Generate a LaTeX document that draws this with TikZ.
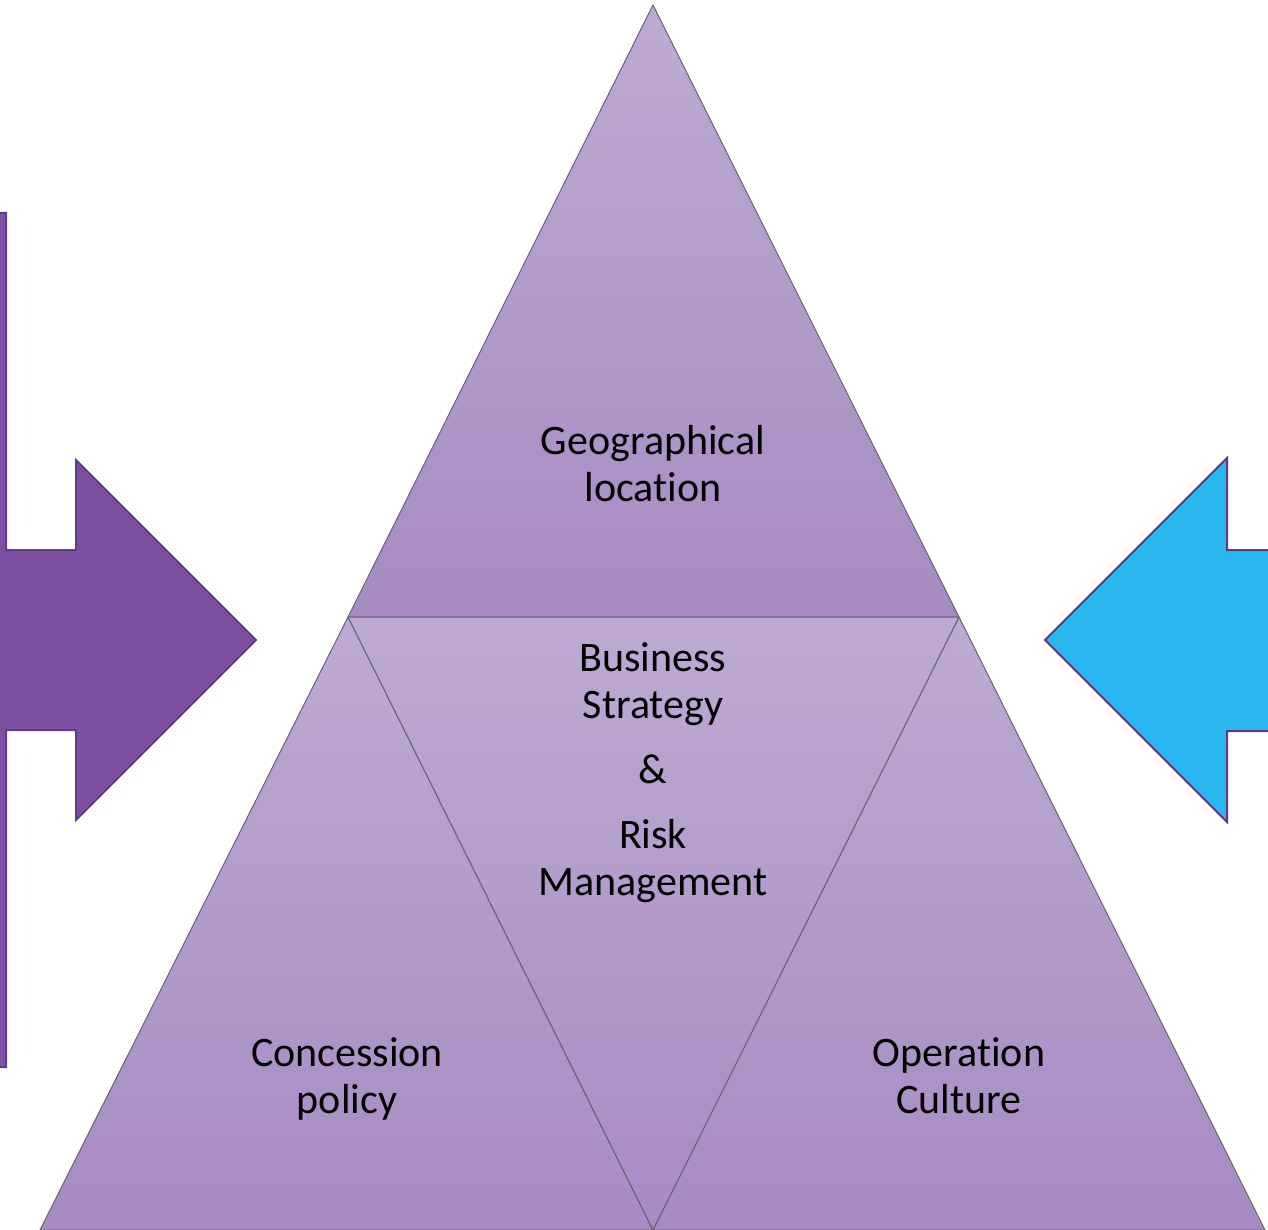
\documentclass[tikz,border=0pt]{standalone}
\usepackage{fontspec}
\setmainfont[RawFeature=-liga]{Carlito}
\definecolor{arrowpurple}{HTML}{7E50A2}
\definecolor{arrowpurpleedge}{HTML}{5F3E88}
\definecolor{arrowblue}{HTML}{29B7EF}
\definecolor{arrowblueedge}{HTML}{5B3A80}
\definecolor{triLight}{HTML}{BDAAD3}
\definecolor{triDark}{HTML}{A68BC3}
\definecolor{triEdge}{HTML}{6A6270}
\tikzset{
  tri/.style={top color=triLight, bottom color=triDark, draw=triEdge, line width=1pt, line join=round},
  label text/.style={font=\fontsize{42}{47}\selectfont, align=center, text=black, inner sep=0pt},
}
\begin{document}
\begin{tikzpicture}[x=1pt,y=-1pt]
\useasboundingbox (0,0) rectangle (1268,1230);
% left arrow
\draw[fill=arrowpurple, draw=arrowpurpleedge, line width=2pt, line join=miter]
  (-2,213) -- (6,213) -- (6,550) -- (76,550) -- (76,460) -- (256,640) -- (76,820) -- (76,730) -- (6,730) -- (6,1067) -- (-2,1067) -- cycle;
% right arrow
\draw[fill=arrowblue, draw=arrowblueedge, line width=2pt, line join=miter]
  (1272,550) -- (1227,550) -- (1227,458) -- (1045,640) -- (1227,822) -- (1227,731) -- (1272,731) -- cycle;
% triangles
\coordinate (apex) at (653,5);
\coordinate (ml) at (348,617);
\coordinate (mr) at (959,617);
\coordinate (bl) at (40,1230);
\coordinate (bm) at (653,1230);
\coordinate (br) at (1265,1230);
\path[tri] (apex) -- (mr) -- (ml) -- cycle;
\path[tri] (ml) -- (bm) -- (bl) -- cycle;
\path[tri] (mr) -- (br) -- (bm) -- cycle;
\path[tri] (ml) -- (mr) -- (bm) -- cycle;
% labels
\node[label text] (geo) at (653,464) {Geographical\\location};
\node[label text] (bus) at (653,684) {Business\\Strategy};
\node[label text] (amp) at (653,769) {\&};
\node[label text] (risk) at (653,861) {Risk\\Management};
\node[label text] (con) at (347,1079) {Concession\\policy};
\node[label text] (op) at (959,1076) {Operation\\Culture};
\end{tikzpicture}
\end{document}
